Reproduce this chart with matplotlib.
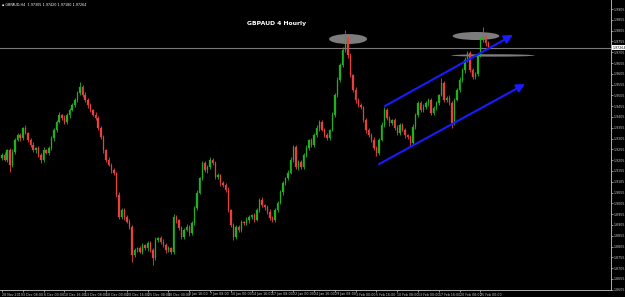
import matplotlib
matplotlib.use("Agg")
import matplotlib.pyplot as plt
import matplotlib.transforms as mtrans
from matplotlib.patches import Ellipse
import numpy as np

# ---------------- data (8-hour resampled view of the GBPAUD 4H chart) -------------
first_open = 1.9215
closes = [
    1.9229, 1.9206, 1.9252, 1.9183, 1.9243, 1.9299, 1.9322, 1.9308, 1.9354, 1.9331,
    1.9299, 1.9275, 1.9252, 1.9261, 1.9229, 1.9206, 1.9252, 1.9238, 1.9261, 1.9308,
    1.9345, 1.9382, 1.9414, 1.9400, 1.9382, 1.9414, 1.9437, 1.9460, 1.9484, 1.9516,
    1.9544, 1.9507, 1.9484, 1.9460, 1.9437, 1.9414, 1.9400, 1.9354, 1.9312, 1.9252,
    1.9206, 1.9183, 1.9160, 1.9146, 1.9044, 1.8942, 1.8974, 1.8942, 1.8919, 1.8896,
    1.8766, 1.8789, 1.8798, 1.8780, 1.8812, 1.8798, 1.8822, 1.8789, 1.8752, 1.8836,
    1.8845, 1.8826, 1.8812, 1.8789, 1.8798, 1.8780, 1.8942, 1.8928, 1.8891, 1.8849,
    1.8882, 1.8896, 1.8868, 1.8914, 1.8984, 1.9053, 1.9123, 1.9192, 1.9160, 1.9173,
    1.9206, 1.9192, 1.9127, 1.9136, 1.9099, 1.9090, 1.9067, 1.8974, 1.8905, 1.8849,
    1.8896, 1.8882, 1.8919, 1.8914, 1.8928, 1.8942, 1.8951, 1.8928, 1.8974, 1.9021,
    1.8998, 1.8988, 1.8965, 1.8937, 1.8928, 1.8974, 1.9007, 1.9058, 1.9099, 1.9123,
    1.9146, 1.9206, 1.9266, 1.9173, 1.9197, 1.9173, 1.9229, 1.9261, 1.9299, 1.9275,
    1.9322, 1.9354, 1.9382, 1.9345, 1.9322, 1.9308, 1.9345, 1.9414, 1.9507, 1.9576,
    1.9646, 1.9715, 1.9771, 1.9692, 1.9599, 1.9530, 1.9484, 1.9460, 1.9451, 1.9391,
    1.9345, 1.9322, 1.9299, 1.9261, 1.9238, 1.9299, 1.9368, 1.9437, 1.9400, 1.9377,
    1.9391, 1.9354, 1.9331, 1.9368, 1.9345, 1.9322, 1.9312, 1.9285, 1.9359, 1.9414,
    1.9470, 1.9437, 1.9451, 1.9470, 1.9484, 1.9424, 1.9447, 1.9470, 1.9507, 1.9562,
    1.9484, 1.9493, 1.9470, 1.9377, 1.9484, 1.9530, 1.9576, 1.9623, 1.9669, 1.9701,
    1.9623, 1.9590, 1.9604, 1.9692, 1.9762, 1.9775, 1.9748, 1.9729,
]
# upper / lower shadow lengths in pips (0.0001)
wick_up = [
    8, 12, 6, 10, 15, 9, 7, 11, 5, 13,
    6, 9, 12, 7, 10, 8, 14, 6, 9, 11,
    7, 10, 13, 6, 12, 9, 8, 11, 7, 10,
    23, 9, 12, 7, 10, 6, 13, 8, 11, 9,
    7, 12, 8, 10, 6, 14, 9, 11, 7, 13,
    8, 10, 6, 12, 9, 7, 11, 8, 10, 13,
    6, 9, 12, 8, 10, 7, 14, 9, 6, 11,
    8, 12, 7, 10, 9, 13, 6, 11, 8, 10,
    12, 7, 9, 11, 6, 10, 8, 13, 7, 9,
    11, 8, 10, 6, 12, 9, 7, 11, 8, 10,
    13, 6, 9, 12, 8, 10, 7, 11, 9, 6,
    12, 15, 8, 10, 7, 11, 9, 13, 6, 10,
    8, 12, 9, 7, 11, 10, 6, 13, 8, 12,
    10, 14, 37, 9, 11, 7, 12, 8, 10, 6,
    9, 11, 7, 12, 8, 10, 13, 15, 9, 11,
    7, 10, 12, 8, 9, 11, 6, 10, 13, 8,
    11, 9, 12, 7, 10, 8, 11, 9, 6, 23,
    10, 8, 12, 9, 11, 7, 13, 10, 12, 9,
    8, 11, 10, 9, 14, 47, 10, 8,
]
wick_dn = [
    9, 7, 11, 33, 8, 10, 6, 12, 9, 7,
    11, 8, 10, 13, 7, 12, 9, 6, 10, 8,
    12, 9, 7, 11, 8, 10, 13, 6, 9, 11,
    7, 10, 8, 12, 9, 6, 11, 8, 10, 13,
    9, 7, 12, 8, 10, 11, 9, 13, 7, 10,
    32, 9, 11, 7, 10, 8, 12, 9, 32, 10,
    8, 11, 9, 13, 7, 10, 8, 12, 9, 11,
    10, 7, 12, 8, 11, 9, 6, 10, 8, 12,
    9, 11, 7, 10, 13, 8, 9, 11, 7, 12,
    10, 8, 11, 9, 7, 12, 8, 10, 6, 11,
    9, 12, 7, 10, 8, 11, 9, 6, 12, 8,
    10, 7, 11, 9, 12, 8, 10, 7, 11, 9,
    8, 10, 12, 7, 9, 11, 8, 6, 10, 9,
    7, 11, 8, 12, 9, 10, 13, 8, 11, 9,
    12, 8, 10, 9, 14, 11, 7, 10, 9, 12,
    8, 11, 9, 10, 7, 12, 9, 13, 8, 10,
    9, 11, 7, 10, 12, 8, 9, 11, 10, 7,
    11, 9, 8, 23, 10, 7, 9, 8, 12, 10,
    9, 11, 8, 10, 7, 9, 12, 8,
]

time_tick_bars = [0, 8, 16, 24, 32, 40, 48, 56, 64, 72, 80, 88, 96, 104,
                  112, 120, 128, 136, 144, 152, 160, 168, 176, 184]
time_labels = ["28 Nov 2019", "3 Dec 08:00", "6 Dec 00:00", "10 Dec 16:00",
               "13 Dec 08:00", "18 Dec 00:00", "20 Dec 16:00", "25 Dec 08:00",
               "30 Dec 00:00", "2 Jan 16:00", "7 Jan 08:00", "10 Jan 00:00",
               "14 Jan 16:00", "17 Jan 08:00", "22 Jan 00:00", "24 Jan 16:00",
               "29 Jan 08:00", "3 Feb 00:00", "5 Feb 16:00", "10 Feb 08:00",
               "13 Feb 00:00", "17 Feb 16:00", "20 Feb 08:00", "25 Feb 00:00"]
price_ticks = [round(1.8605 + 0.005 * k, 4) for k in range(27)]

bid_price = 1.97264
ohlc_header = "GBPAUD,H4  1.97305 1.97420 1.97180 1.97264"
title = "GBPAUD 4 Hourly"

# drawn objects (bar index, price)
upper_arrow = [(147.3, 1.9456), (196.5, 1.9785)]
lower_arrow = [(145.0, 1.9187), (201.2, 1.9558)]
ellipses = [  # centre bar, centre price, width (bars), height (price)
    (133.1, 1.9766, 14.6, 0.0046),
    (182.3, 1.9780, 18.0, 0.0037),
    (188.8, 1.9690, 32.0, 0.0011),
]

# ---------------- figure -----------------
W, H = 625, 297
fig = plt.figure(figsize=(W / 100, H / 100), dpi=100, facecolor="black")
ax = fig.add_axes([0, 7 / H, 611 / W, 1 - 7 / H], facecolor="black")

y_top = 1.99467
y_bot = 1.86040
ax.set_ylim(y_bot, y_top)
ax.set_xlim(-0.77, 234.2)

up_col = "#20b020"
dn_col = "#e84040"

opens = [first_open] + closes[:-1]
n = len(closes)
for i in range(n):
    o, c = opens[i], closes[i]
    hi = max(o, c) + wick_up[i] * 1e-4
    lo = min(o, c) - wick_dn[i] * 1e-4
    col = up_col if c >= o else dn_col
    ax.vlines(i, lo, hi, color=col, lw=0.6, zorder=3)
    ax.bar(i, max(abs(c - o), 0.00012), bottom=min(o, c), width=0.55,
           color=col, edgecolor=col, linewidth=0.2, zorder=3)

# ellipses (behind candles)
for cx, cy, w, h in ellipses:
    ax.add_patch(Ellipse((cx, cy), w, h, facecolor="#8c8c8c", edgecolor="none",
                         alpha=0.9, zorder=2))

# bid line
ax.axhline(bid_price, color="#7a7a7a", lw=0.8, zorder=1)

# channel arrows
for (x0, y0), (x1, y1) in (upper_arrow, lower_arrow):
    ax.annotate("", xy=(x1, y1), xytext=(x0, y0),
                arrowprops=dict(arrowstyle="-|>,head_length=0.5,head_width=0.25",
                                color="#1a1aff", lw=1.5, shrinkA=0, shrinkB=0),
                zorder=4)

# title & header
ax.text(0.453, 0.918, title, transform=ax.transAxes, color="white",
        fontsize=4.4, fontweight="bold", ha="center", va="center")
ax.text(0.003, 0.983, "\u25aa " + ohlc_header, transform=ax.transAxes,
        color="white", fontsize=2.4, ha="left", va="center")

# axes styling
for s in ("top", "left"):
    ax.spines[s].set_visible(False)
for s in ("right", "bottom"):
    ax.spines[s].set_color("#c8c8c8")
    ax.spines[s].set_linewidth(0.6)

ax.yaxis.tick_right()
ax.set_yticks(price_ticks)
ax.set_yticklabels([f"{p:.4f}" for p in price_ticks])
ax.tick_params(axis="y", colors="#c8c8c8", labelsize=2.3, length=1.2,
               width=0.5, pad=0.8)
ax.set_xticks(time_tick_bars)
ax.set_xticklabels(time_labels)
for lab in ax.get_xticklabels():
    lab.set_ha("left")
ax.tick_params(axis="x", colors="#c8c8c8", labelsize=2.3, length=1.2,
               width=0.5, pad=0.6)

# highlighted bid price label
trans = mtrans.blended_transform_factory(ax.transAxes, ax.transData)
ax.text(1.003, bid_price, f"{bid_price:.5f}", transform=trans, fontsize=2.3,
        color="black", ha="left", va="center", clip_on=False,
        bbox=dict(boxstyle="square,pad=0.2", facecolor="white", edgecolor="none"))

fig.savefig("out.png", dpi=100, facecolor="black")
